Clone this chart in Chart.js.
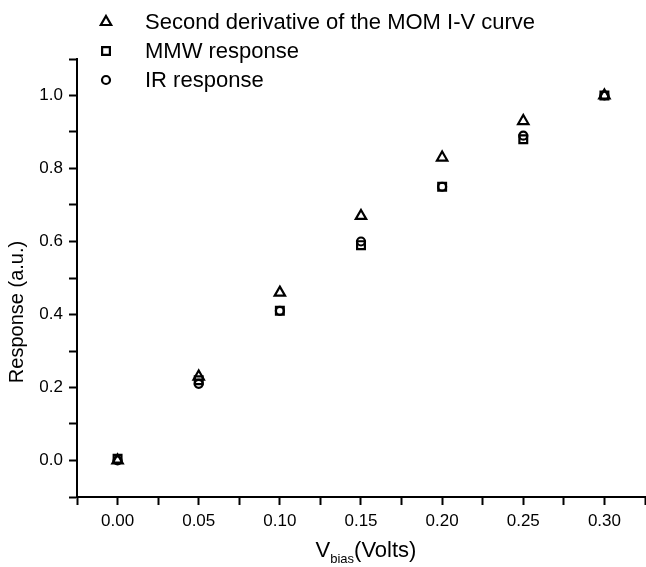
<!DOCTYPE html>
<html lang="en">
<head>
  <meta charset="UTF-8">
  <title>Response vs Vbias</title>
  <script src="https://cdn.jsdelivr.net/npm/chart.js"></script>
  <style>
    body { margin: 0; background: #fff; }
    #wrap { width: 646px; height: 567px; }
  </style>
</head>
<body>
  <div id="wrap"><canvas id="myChart" width="646" height="567"></canvas></div>

  <script>
    // values
    const vbias = [0.00, 0.05, 0.10, 0.15, 0.20, 0.25, 0.30];
    const secondDeriv = [0.00, 0.23, 0.46, 0.67, 0.83, 0.93, 1.00];
    const mmwResponse = [0.005, 0.22, 0.41, 0.59, 0.75, 0.88, 1.00];
    const irResponse = [0.00, 0.21, 0.41, 0.60, 0.75, 0.89, 1.00];
    const seriesNames = ['Second derivative of the MOM I-V curve', 'MMW response', 'IR response'];

    const FONT = '"Liberation Sans", Arial, Helvetica, sans-serif';

    function toPoints(ys) {
      return vbias.map((x, i) => ({ x: x, y: ys[i] }));
    }

    // legend in the top left corner, stacked vertically
    const legendPlugin = {
      id: 'stackedLegend',
      afterDraw(chart) {
        const ctx = chart.ctx;
        const rows = [22, 51, 80];
        ctx.save();
        chart.data.datasets.forEach((ds, i) => {
          ctx.strokeStyle = '#000';
          ctx.fillStyle = 'rgba(0,0,0,0)';
          ctx.lineWidth = ds.pointBorderWidth;
          Chart.helpers.drawPoint(ctx, {
            pointStyle: ds.pointStyle,
            radius: ds.pointRadius,
            rotation: 0,
            borderWidth: ds.pointBorderWidth
          }, 106, rows[i]);
          ctx.fillStyle = '#000';
          ctx.font = '22px ' + FONT;
          ctx.textBaseline = 'middle';
          ctx.textAlign = 'left';
          ctx.fillText(ds.label, 145, rows[i] + 1);
        });
        ctx.restore();
      }
    };

    // axis titles (x title has a subscript)
    const titlePlugin = {
      id: 'axisTitles',
      afterDraw(chart) {
        const ctx = chart.ctx;
        ctx.save();
        ctx.fillStyle = '#000';
        ctx.textBaseline = 'alphabetic';

        ctx.font = '22px ' + FONT;
        const wV = ctx.measureText('V').width;
        const wRest = ctx.measureText('(Volts)').width;
        ctx.font = '13px ' + FONT;
        const wSub = ctx.measureText('bias').width;
        let x = 366 - (wV + wSub + wRest) / 2;
        const base = 557;
        ctx.font = '22px ' + FONT;
        ctx.textAlign = 'left';
        ctx.fillText('V', x, base);
        x += wV;
        ctx.font = '13px ' + FONT;
        ctx.fillText('bias', x, base + 6);
        x += wSub;
        ctx.font = '22px ' + FONT;
        ctx.fillText('(Volts)', x, base);

        ctx.font = '20px ' + FONT;
        ctx.translate(17, 312);
        ctx.rotate(-Math.PI / 2);
        ctx.textAlign = 'center';
        ctx.textBaseline = 'middle';
        ctx.fillText('Response (a.u.)', 0, 0);
        ctx.restore();
      }
    };

    const ctx = document.getElementById('myChart').getContext('2d');
    const myChart = new Chart(ctx, {
      type: 'scatter',
      data: {
        datasets: [{
          label: seriesNames[0],
          data: toPoints(secondDeriv),
          pointStyle: 'triangle',
          pointRadius: 6,
          pointBorderWidth: 2.2,
          borderColor: '#000',
          backgroundColor: 'rgba(0,0,0,0)',
        }, {
          label: seriesNames[1],
          data: toPoints(mmwResponse),
          pointStyle: 'rect',
          pointRadius: 5.5,
          pointBorderWidth: 2.2,
          borderColor: '#000',
          backgroundColor: 'rgba(0,0,0,0)',
        }, {
          label: seriesNames[2],
          data: toPoints(irResponse),
          pointStyle: 'circle',
          pointRadius: 4,
          pointBorderWidth: 2.2,
          borderColor: '#000',
          backgroundColor: 'rgba(0,0,0,0)',
        }],
      },
      options: {
        responsive: false,
        animation: false,
        layout: { autoPadding: false, padding: { left: 0, right: 1, top: 59, bottom: 0 } },
        plugins: {
          legend: { display: false },
          tooltip: { enabled: false },
        },
        scales: {
          x: {
            type: 'linear',
            position: 'bottom',
            min: -0.025,
            max: 0.325,
            afterFit(scale) {
              scale.height = 70;
              scale.paddingLeft = 0;
              scale.paddingRight = 0;
            },
            ticks: {
              stepSize: 0.025,
              autoSkip: false,
              maxRotation: 0,
              padding: 6,
              color: '#000',
              font: { family: FONT, size: 17 },
              callback(v) {
                const k = Math.round(v * 1000);
                return k % 50 === 0 ? (k / 1000).toFixed(2) : '';
              },
            },
            grid: {
              drawOnChartArea: false,
              drawTicks: true,
              tickLength: 8,
              tickWidth: 2,
              color: '#000',
            },
            border: { display: true, color: '#000', width: 2 },
          },
          y: {
            type: 'linear',
            position: 'left',
            min: -0.1,
            max: 1.1,
            afterFit(scale) {
              scale.width = 77;
              scale.paddingTop = 0;
              scale.paddingBottom = 0;
            },
            ticks: {
              stepSize: 0.1,
              autoSkip: false,
              padding: 6,
              color: '#000',
              font: { family: FONT, size: 17 },
              callback(v) {
                const k = Math.round(v * 10);
                return k % 2 === 0 ? (k / 10).toFixed(1) : '';
              },
            },
            grid: {
              drawOnChartArea: false,
              drawTicks: true,
              tickLength: 8,
              tickWidth: 2,
              color: '#000',
            },
            border: { display: true, color: '#000', width: 2 },
          },
        },
      },
      plugins: [legendPlugin, titlePlugin],
    });
  </script>
</body>
</html>
